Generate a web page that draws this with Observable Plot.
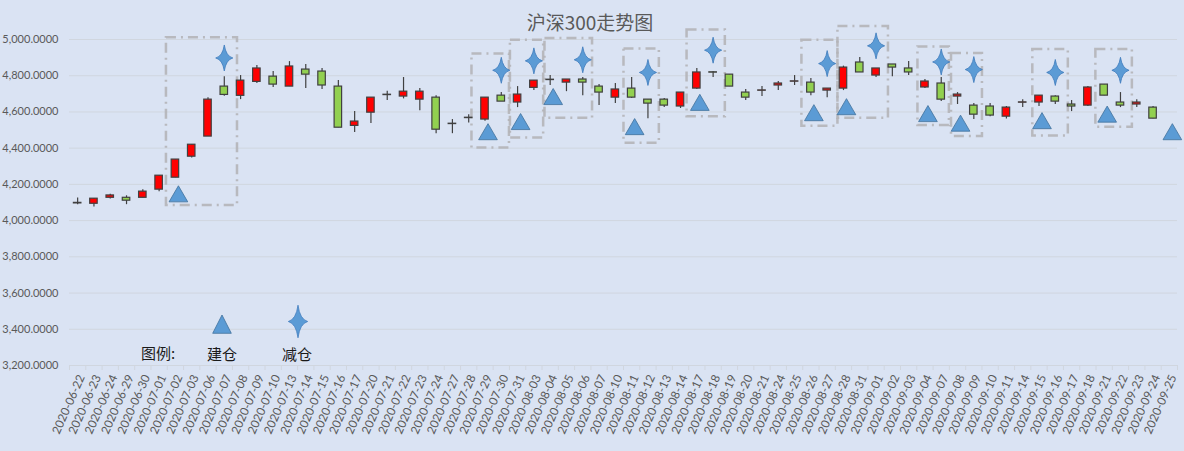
<!DOCTYPE html>
<html><head><meta charset="utf-8">
<script src="https://cdn.jsdelivr.net/npm/d3@7"></script>
<script src="https://cdn.jsdelivr.net/npm/@observablehq/plot@0.6"></script>
<style>
html,body{margin:0;padding:0;background:#dae3f3;}
#wrap{position:relative;width:1184px;height:451px;background:#dae3f3;overflow:hidden;}
#chart svg{display:block;}
#title{position:absolute;left:0;top:8px;width:1180px;text-align:center;font-family:"Noto Sans CJK SC";font-size:19px;line-height:28px;color:#595959;}
.lg{position:absolute;font-family:"Noto Sans CJK SC";font-size:15px;color:#1a1a1a;transform:translate(-50%,-50%);white-space:nowrap;}
.lgs{position:absolute;overflow:visible;}
</style></head><body>
<div id="wrap">
<div id="chart"></div>
<div id="title">沪深300走势图</div>
<div class="lg" style="left:158px;top:352px">图例:</div>
<div class="lg" style="left:222px;top:353px">建仓</div>
<div class="lg" style="left:297px;top:353px">减仓</div>
<svg class="lgs" id="lgTri" style="left:212px;top:314px" width="20" height="20"></svg>
<svg class="lgs" id="lgStar" style="left:288px;top:305px" width="20" height="34"></svg>
</div>
<script>
const dates = ["2020-06-22","2020-06-23","2020-06-24","2020-06-29","2020-06-30","2020-07-01","2020-07-02","2020-07-03","2020-07-06","2020-07-07","2020-07-08","2020-07-09","2020-07-10","2020-07-13","2020-07-14","2020-07-15","2020-07-16","2020-07-17","2020-07-20","2020-07-21","2020-07-22","2020-07-23","2020-07-24","2020-07-27","2020-07-28","2020-07-29","2020-07-30","2020-07-31","2020-08-03","2020-08-04","2020-08-05","2020-08-06","2020-08-07","2020-08-10","2020-08-11","2020-08-12","2020-08-13","2020-08-14","2020-08-17","2020-08-18","2020-08-19","2020-08-20","2020-08-21","2020-08-24","2020-08-25","2020-08-26","2020-08-27","2020-08-28","2020-08-31","2020-09-01","2020-09-02","2020-09-03","2020-09-04","2020-09-07","2020-09-08","2020-09-09","2020-09-10","2020-09-11","2020-09-14","2020-09-15","2020-09-16","2020-09-17","2020-09-18","2020-09-21","2020-09-22","2020-09-23","2020-09-24","2020-09-25"];
const open  = [4095,4093,4126,4126,4126,4171,4237,4353,4464,4740,4689,4766,4795,4740,4834,4823,4740,4523,4596,4693,4685,4668,4679,4533,4566,4558,4690,4652,4733,4776,4762,4779,4740,4679,4729,4668,4668,4630,4729,4819,4806,4707,4717,4746,4767,4762,4718,4729,4873,4801,4862,4840,4735,4757,4685,4635,4630,4574,4651,4652,4685,4641,4635,4751,4652,4641,4624,null];
const high  = [4125,4122,4145,4137,4171,4248,4337,4419,4678,4794,4801,4856,4823,4878,4862,4840,4773,4602,4679,4714,4790,4729,4690,4558,4585,4679,4707,4740,4773,4801,4779,4790,4751,4757,4790,4668,4674,4707,4840,4823,4806,4724,4740,4768,4801,4784,4729,4853,4900,4840,4862,4878,4779,4790,4707,4646,4646,4630,4668,4690,4690,4663,4740,4751,4707,4668,4630,null];
const low   = [4088,4075,4119,4088,4126,4160,4237,4346,4464,4687,4668,4757,4735,4740,4729,4724,4513,4486,4536,4663,4672,4607,4480,4480,4539,4548,4657,4624,4718,4746,4712,4690,4635,4646,4674,4563,4624,4619,4724,4790,4740,4663,4685,4718,4746,4690,4679,4718,4818,4790,4795,4801,4729,4657,4641,4558,4574,4561,4624,4630,4641,4602,4630,4690,4624,4624,4563,null];
const close = [4098,4121,4139,4110,4160,4248,4337,4419,4668,4694,4773,4840,4751,4851,4806,4746,4513,4547,4679,4695,4712,4712,4502,4535,4568,4679,4657,4696,4773,4778,4779,4762,4707,4724,4679,4646,4635,4707,4818,4817,4740,4679,4719,4757,4769,4707,4729,4845,4818,4840,4845,4818,4768,4668,4696,4585,4580,4624,4653,4690,4657,4630,4735,4690,4635,4652,4563,null];

// 建仓 (open position) signals
const buyDates  = ["2020-07-02","2020-07-29","2020-07-31","2020-08-04","2020-08-11","2020-08-17","2020-08-26","2020-08-28","2020-09-04","2020-09-08","2020-09-15","2020-09-21","2020-09-25"];
const buyLevels = [4148,4491,4547,4685,4519,4653,4596,4629,4591,4538,4552,4588,4491];
// 减仓 (reduce position) signals
const sellDates  = ["2020-07-07","2020-07-30","2020-08-03","2020-08-06","2020-08-12","2020-08-18","2020-08-27","2020-09-01","2020-09-07","2020-09-09","2020-09-16","2020-09-22"];
const sellLevels = [4898,4830,4882,4888,4818,4941,4867,4965,4876,4834,4818,4830];

// dashed annotation boxes (x in trading-day index units, y in index points)
const boxLeft  = [5.45,24.2,26.56,28.68,33.53,37.4,44.45,46.66,51.57,53.63,58.62,62.49];
const boxRight = [9.81,26.5,28.6,31.6,35.7,39.75,46.66,49.76,53.5,55.53,60.8,64.73];
const boxLow   = [4084,4401,4456,4565,4427,4574,4521,4565,4525,4465,4467,4515];
const boxHigh  = [5010,4920,4996,5005,4948,5053,4996,5072,4959,4923,4945,4945];

const yTicks = [3200,3400,3600,3800,4000,4200,4400,4600,4800,5000];

const rows = dates.map((d, i) => ({i, date: d, o: open[i], h: high[i], l: low[i], c: close[i]})).filter(d => d.o != null);
const up = rows.filter(d => d.c >= d.o);
const down = rows.filter(d => d.c < d.o);
const buys = buyDates.map((d, k) => ({i: dates.indexOf(d), v: buyLevels[k]}));
const sells = sellDates.map((d, k) => ({i: dates.indexOf(d), v: sellLevels[k]}));
const boxes = boxLeft.map((x, k) => ({x1: x, x2: boxRight[k], y1: boxLow[k], y2: boxHigh[k]}));

const starSymbol = {
  draw(ctx, size) {
    const r = Math.sqrt(size / Math.PI), w = r * 0.66, k = r * 0.13;
    ctx.moveTo(0, -r);
    ctx.quadraticCurveTo(k, -k, w, 0);
    ctx.quadraticCurveTo(k, k, 0, r);
    ctx.quadraticCurveTo(-k, k, -w, 0);
    ctx.quadraticCurveTo(-k, -k, 0, -r);
    ctx.closePath();
  }
};
const triSymbol = {
  draw(ctx, size) {
    const r = Math.sqrt(size / Math.PI), h = r * 0.86;
    ctx.moveTo(0, -h);
    ctx.lineTo(r, h);
    ctx.lineTo(-r, h);
    ctx.closePath();
  }
};

const edge = "#404040";
const chart = Plot.plot({
  width: 1184, height: 451,
  marginLeft: 69, marginRight: 7, marginTop: 39, marginBottom: 86,
  style: {fontFamily: "Lato, 'Liberation Sans', sans-serif", fontSize: "11px", background: "transparent", color: "#595959"},
  x: {domain: [-0.5, dates.length - 0.5]},
  y: {domain: [3200, 5000]},
  marks: [
    Plot.gridY(yTicks, {stroke: "#d0d6df", strokeOpacity: 1}),
    Plot.axisX(d3.range(dates.length + 1).map(i => i - 0.5), {tickSize: 5, stroke: "#d0d6df", tickFormat: () => "", label: null}),
    Plot.text(d3.range(dates.length), {x: d => d, frameAnchor: "bottom", text: i => dates[i], rotate: -66, textAnchor: "end", lineAnchor: "middle", fontSize: 11.8, dx: 4, dy: 10, fill: "#595959"}),
    Plot.axisY(yTicks, {tickFormat: d3.format(",.4f"), tickSize: 0, tickPadding: 11, fill: "#595959", label: null}),
    Plot.rect(boxes, {x1: "x1", x2: "x2", y1: "y1", y2: "y2", fill: "none", stroke: "#b4b4b8", strokeWidth: 2.5, strokeDasharray: "10,5,2,5", strokeOpacity: 0.9}),
    Plot.ruleX(rows, {x: "i", y1: "l", y2: "h", stroke: edge, strokeWidth: 1.2}),
    Plot.rect(up, {x1: d => d.i - 0.23, x2: d => d.i + 0.23, y1: "o", y2: "c", fill: "#ff0000", stroke: edge, strokeWidth: 1.2}),
    Plot.rect(down, {x1: d => d.i - 0.23, x2: d => d.i + 0.23, y1: "o", y2: "c", fill: "#92d050", stroke: edge, strokeWidth: 1.2}),
    Plot.dot(buys, {x: "i", y: "v", symbol: triSymbol, r: 9.35, dx: 3, fill: "#5b9bd5", stroke: "#41719c", strokeWidth: 0.8}),
    Plot.dot(sells, {x: "i", y: "v", symbol: starSymbol, r: 13, fill: "#5b9bd5", stroke: "#3f7bbd", strokeWidth: 0.8})
  ]
});
document.getElementById("chart").appendChild(chart);

// legend glyphs
const ns = "http://www.w3.org/2000/svg";
const tri = document.createElementNS(ns, "polygon");
tri.setAttribute("points", "10,1 19.3,19.3 0.7,19.3");
tri.setAttribute("fill", "#5b9bd5"); tri.setAttribute("stroke", "#41719c"); tri.setAttribute("stroke-width", "0.8");
document.getElementById("lgTri").appendChild(tri);
const sp = d3.path();
starSymbol.draw(sp, Math.PI * 16.3 * 16.3);
const st = document.createElementNS(ns, "path");
st.setAttribute("d", sp.toString());
st.setAttribute("transform", "translate(10,16.5) scale(0.9,1)");
st.setAttribute("fill", "#5b9bd5"); st.setAttribute("stroke", "#3f7bbd"); st.setAttribute("stroke-width", "0.8");
document.getElementById("lgStar").appendChild(st);
</script>
</body></html>
